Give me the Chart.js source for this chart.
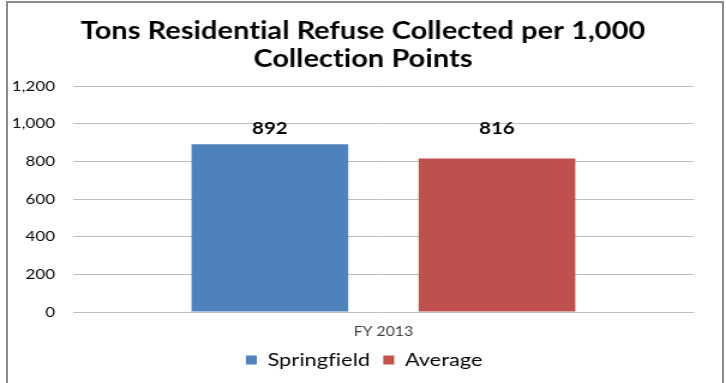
<!DOCTYPE html>
<html lang="en">
  <head>
    <meta charset="UTF-8" />
    <title>Tons Residential Refuse Collected</title>
    <style>
      * {
        margin: 0;
        padding: 0;
        box-sizing: border-box;
      }
      body {
        width: 726px;
        height: 383px;
        overflow: hidden;
        background: #fff;
        position: relative;
      }
      .frame {
        position: absolute;
        left: 6px;
        top: 1px;
        width: 718px;
        height: 420px;
        border: 2px solid #8c8c8c;
      }
      /* the original picture is stretched sideways, so draw narrow and widen it */
      .chartBox {
        position: absolute;
        left: 0;
        top: 0;
        width: 605px;
        height: 383px;
        transform: scale(1.2, 1);
        transform-origin: 0 0;
      }
    </style>
  </head>
  <body>
    <div class="frame"></div>
    <div class="chartBox">
      <canvas id="myChart"></canvas>
    </div>

    <script src="https://cdn.jsdelivr.net/npm/chart.js"></script>

    <script>
      const categories = ["FY 2013"];
      const seriesNames = ["Springfield", "Average"];
      const springfield = [892];
      const average = [816];
      const yTicks = [0, 200, 400, 600, 800, 1000, 1200];

      const colors = ["#4F81BD", "#C0504D"];
      const font = "Lato, 'Open Sans', sans-serif";

      // no "ti" ligatures, like the original font
      const noLigatures = {
        id: "noLigatures",
        beforeDraw(chart) {
          chart.ctx.letterSpacing = "0.1px";
        },
      };

      // value labels above the bars, all on one line like the original
      const barLabels = {
        id: "barLabels",
        afterDatasetsDraw(chart) {
          const { ctx, scales: { y } } = chart;
          let top = 0;
          chart.data.datasets.forEach((ds) => {
            ds.data.forEach((v) => (top = Math.max(top, v)));
          });
          const labelY = y.getPixelForValue(top) - 16;
          ctx.save();
          ctx.font = "bold 17px " + font;
          ctx.fillStyle = "#000";
          ctx.textAlign = "center";
          ctx.textBaseline = "middle";
          chart.data.datasets.forEach((ds, i) => {
            const meta = chart.getDatasetMeta(i);
            meta.data.forEach((bar, j) => {
              ctx.fillText(ds.data[j].toLocaleString("en-US"), bar.x, labelY);
            });
          });
          ctx.restore();
        },
      };

      const data = {
        labels: categories,
        datasets: [
          {
            label: seriesNames[0],
            data: springfield,
            backgroundColor: colors[0],
            categoryPercentage: 0.732,
            barPercentage: 0.69,
          },
          {
            label: seriesNames[1],
            data: average,
            backgroundColor: colors[1],
            categoryPercentage: 0.732,
            barPercentage: 0.69,
          },
        ],
      };

      const config = {
        type: "bar",
        data: data,
        options: {
          responsive: true,
          maintainAspectRatio: false,
          animation: false,
          layout: {
            padding: { left: 0, right: 0, top: 17, bottom: 4 },
          },
          plugins: {
            title: {
              display: true,
              text: ["Tons Residential Refuse Collected per 1,000", "Collection Points"],
              color: "#000",
              font: { family: font, size: 24, weight: "bold", lineHeight: 1.17 },
              padding: { top: 0, bottom: 13 },
            },
            legend: {
              position: "bottom",
              labels: {
                color: "#000",
                font: { family: font, size: 18 },
                boxWidth: 9,
                boxHeight: 9,
                padding: 11,
              },
            },
            tooltip: { enabled: false },
          },
          scales: {
            x: {
              grid: { display: false },
              border: { display: false },
              ticks: {
                color: "#404040",
                font: { family: font, size: 13 },
                padding: 4,
              },
              afterFit: (scale) => {
                scale.height = 28;
              },
            },
            y: {
              min: 0,
              max: 1200,
              afterBuildTicks: (scale) => {
                scale.ticks = yTicks.map((v) => ({ value: v }));
              },
              afterFit: (scale) => {
                scale.width = 61;
              },
              grid: {
                color: "#bfbfbf",
                drawTicks: false,
              },
              border: { display: false },
              ticks: {
                color: "#000",
                font: { family: font, size: 14 },
                padding: 15,
              },
            },
            // empty right axis keeps the plot off the right edge
            yRight: {
              position: "right",
              display: true,
              grid: { display: false },
              border: { display: false },
              ticks: { display: false },
              afterFit: (scale) => {
                scale.width = 27;
              },
            },
          },
        },
        plugins: [noLigatures, barLabels],
      };

      const myChart = new Chart(document.getElementById("myChart"), config);
    </script>
  </body>
</html>
